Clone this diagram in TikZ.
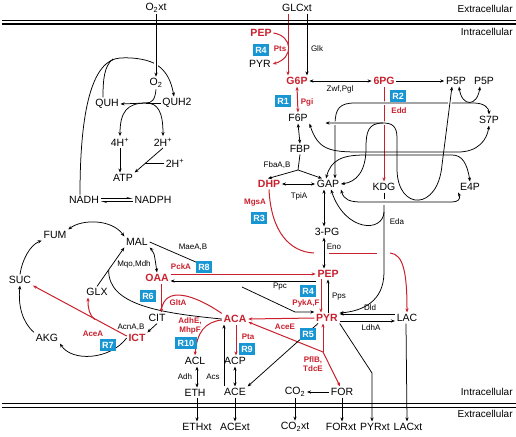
\documentclass[tikz,border=0pt]{standalone}
\usepackage{fontspec}
\setmainfont{Liberation Sans}
\usetikzlibrary{positioning,arrows.meta}
\definecolor{fluxred}{RGB}{200,32,45}
\definecolor{fluxblue}{RGB}{24,150,212}
\tikzset{
	network/.style={>={Stealth[length=4pt,width=3.2pt]},line width=0.75pt},
	met/.style={inner sep=1.5pt,font=\fontsize{10.5}{12}\selectfont},
	keymet/.style={met,text=fluxred,font=\fontsize{10.5}{12}\selectfont\bfseries},
	enz/.style={inner sep=1pt,font=\fontsize{8}{9}\selectfont},
	keyenz/.style={enz,text=fluxred,align=center,font=\fontsize{8}{9}\selectfont\bfseries},
	rbox/.style={fill=fluxblue,text=white,inner sep=2.5pt,minimum height=12pt,font=\fontsize{9}{10}\selectfont\bfseries},
	side/.style={inner sep=0pt,anchor=east,font=\fontsize{10}{12}\selectfont},
	keyflux/.style={draw=fluxred,line width=1pt},
	halo/.style={preaction={draw=white,line width=3.5pt,-}},
	membrane/.style={line width=1.2pt}
}
\begin{document}
\begin{tikzpicture}[network,x=1pt,y=-1pt]
	\useasboundingbox (0,0) rectangle (516,436);
	
	% compartments
	\node[side] (exttop) at (513,9) {Extracellular};
	\node[side] (inttop) at (513,32) {Intracellular};
	\node[side] (intbot) at (513,392) {Intracellular};
	\node[side] (extbot) at (513,414) {Extracellular};
	
	% metabolites
	\node[met] (o2xt) at (156,8) {O\textsubscript{2}xt};
	\node[met] (glcxt) at (297,8) {GLCxt};
	\node[met] (o2) at (156,83) {O\textsubscript{2}};
	\node[met] (quh) at (107,104) {QUH};
	\node[met] (quhtwo) at (177,103) {QUH2};
	\node[met] (hfour) at (120,142) {4H\textsuperscript{+}};
	\node[met] (htwo) at (163,142) {2H\textsuperscript{+}};
	\node[met] (htwob) at (175,163) {2H\textsuperscript{+}};
	\node[met] (atp) at (123,178) {ATP};
	\node[met] (nadh) at (84,200) {NADH};
	\node[met] (nadph) at (153,200) {NADPH};
	\node[keymet] (pepa) at (261,33) {PEP};
	\node[met] (pyra) at (260,64) {PYR};
	\node[keymet] (g6p) at (297,81) {G6P};
	\node[keymet] (pg6) at (384,81) {6PG};
	\node[met] (p5pa) at (456,81) {P5P};
	\node[met] (p5pb) at (484,81) {P5P};
	\node[met] (f6p) at (298,118) {F6P};
	\node[met] (s7p) at (489,120) {S7P};
	\node[met] (fbp) at (300,149) {FBP};
	\node[keymet] (dhp) at (269,184) {DHP};
	\node[met] (gap) at (328,184) {GAP};
	\node[met] (kdg) at (384,187) {KDG};
	\node[met] (e4p) at (470,187) {E4P};
	\node[met] (pg3) at (327,232) {3-PG};
	\node[keymet] (pep) at (328,274) {PEP};
	\node[keymet] (pyr) at (327,318) {PYR};
	\node[met] (lac) at (407,318) {LAC};
	\node[keymet] (oaa) at (157,278) {OAA};
	\node[met] (mal) at (137,242) {MAL};
	\node[met] (fum) at (55,235) {FUM};
	\node[met] (suc) at (20,280) {SUC};
	\node[met] (akg) at (47,338) {AKG};
	\node[met] (glx) at (97,292) {GLX};
	\node[met] (cit) at (157,318) {CIT};
	\node[keymet] (ict) at (137,338) {ICT};
	\node[keymet] (aca) at (235,319) {ACA};
	\node[met] (acl) at (195,361) {ACL};
	\node[met] (acp) at (235,361) {ACP};
	\node[met] (eth) at (195,393) {ETH};
	\node[met] (ace) at (235,392) {ACE};
	\node[met] (co2) at (295,392) {CO\textsubscript{2}};
	\node[met] (form) at (342,392) {FOR};
	\node[met] (ethxt) at (197,427) {ETHxt};
	\node[met] (acext) at (235,427) {ACExt};
	\node[met] (co2xt) at (295,427) {CO\textsubscript{2}xt};
	\node[met] (forxt) at (341,427) {FORxt};
	\node[met] (pyrxt) at (375,427) {PYRxt};
	\node[met] (lacxt) at (408,427) {LACxt};
	
	% respiration
	\draw[->] ([xshift=-4pt]nadh.north) .. controls (80,110) and (92,60) .. (120,58) .. controls (135,57) and (150,60) .. (157,65) .. controls (166,71) and (171,80) .. ([xshift=-3pt]quhtwo.north);
	\draw (113,59) .. controls (104,66) and (103,80) .. ([xshift=-4pt]quh.north);
	\draw[->,halo] (o2xt) -- (o2);
	\draw[->] (o2.south) .. controls (155,100) and (152,103) .. (146,103) -- (quh.east);
	\draw (quhtwo.west) -- (146,103);
	\draw[->] (146,103) .. controls (127,103) and (120,112) .. (hfour.north);
	\draw[->] (146,103) .. controls (158,103) and (163,112) .. (htwo.north);
	\draw[->] (hfour.south) -- (hfour.south |- atp.north);
	\draw[->] (htwo.south) -- (atp.north east);
	\draw (htwob.west) -- (145,163);
	\draw[-{Stealth[left,length=5pt,width=3pt]}] ([yshift=1.5pt]nadh.east) -- ([yshift=1.5pt]nadph.west);
	\draw[-{Stealth[left,length=5pt,width=3pt]}] ([yshift=-1.5pt]nadph.west) -- ([yshift=-1.5pt]nadh.east);
	
	% uptake and upper glycolysis
	\draw[keyflux,->] ([xshift=-9pt]glcxt.south) -- ([xshift=-9pt]g6p.north);
	\draw[->] ([xshift=10pt]glcxt.south) -- ([xshift=10pt]g6p.north);
	\draw[keyflux,->] (pepa.east) .. controls (293,36) and (294,58) .. (pyra.east);
	\draw[<->] (g6p.east) -- (pg6.west);
	\draw[->] (pg6.east) -- (p5pa.west);
	\draw[keyflux,<->] (g6p.south) -- (f6p.north);
	\draw[<->] (f6p.south) -- (fbp.north);
	\draw (fbp.south) -- (298,170) coordinate (fba);
	\draw[->] (fba) -- ([xshift=-1pt]dhp.north);
	\draw[->] (fba) -- ([xshift=-6pt]gap.north);
	\draw[<->] (dhp.east) -- (gap.west);
	
	% pentose phosphates and ED
	\draw[keyflux,->] (pg6.south) -- (kdg.north);
	\draw[<->,halo] ([xshift=7pt]gap.north) -- (335,125) .. controls (335,108) and (340,103) .. (355,103) -- (474,103) .. controls (484,103) and (489,108) .. (s7p.north);
	\draw[<->,halo] ([xshift=-4pt]p5pa.south) -- (442,165) .. controls (438,211) and (398,211) .. (397,170) -- (397,138) .. controls (397,126) and (392,123) .. (383,123) -- ([xshift=16pt,yshift=-5pt]f6p.east);
	\draw[->] (383,123) .. controls (368,123) and (366,132) .. (366,148) .. controls (366,172) and (356,182) .. (gap.east);
	\draw[<->] ([xshift=3pt]p5pa.south) .. controls (462,107) and (477,107) .. ([xshift=-4pt]p5pb.south);
	\draw[<->] (f6p.south east) .. controls (318,150) and (330,152) .. (360,152) -- (458,152) .. controls (478,152) and (487,140) .. (s7p.south);
	\draw[<->] ([xshift=-2pt]gap.north) .. controls (331,160) and (342,155) .. (365,155) -- (452,155) .. controls (462,155) and (467,163) .. (e4p.north);
	\draw[<->] (gap.south east) .. controls (344,200) and (350,202) .. (362,202) -- (452,202) .. controls (458,202) and (461,199) .. (e4p.south west);
	\draw (kdg.south) -- (384,199);
	\draw[->] (384,205) -- (384,272) .. controls (384,302) and (362,311) .. ([yshift=5pt]pyr.east);
	\draw[->] (384,212) .. controls (383,233) and (345,232) .. ([xshift=3pt]gap.south);
	
	% lower glycolysis
	\draw[<->] ([xshift=-4pt]gap.south) -- ([xshift=-3pt]pg3.north);
	\draw[<->] ([xshift=-3pt]pg3.south) -- ([xshift=-4pt]pep.north);
	\draw[keyflux] (dhp.south) .. controls (271,232) and (290,252) .. (314,253);
	\draw[keyflux] (329,253) -- (377,253);
	\draw[keyflux,->] (390,253) .. controls (404,254) and (407,275) .. (lac.north);
	\draw[keyflux,->] ([xshift=-7pt]pep.south) -- ([xshift=-6pt]pyr.north);
	\draw[->] ([xshift=1pt]pyr.north) -- (pep.south);
	
	% anaplerosis and pyruvate node
	\draw[keyflux,->] ([yshift=4pt]oaa.east) -- (pep.west);
	\draw[->] ([yshift=-7pt]pep.west) -- ([yshift=-3pt]oaa.east);
	\draw (mal.east) -- (205,266);
	\draw[->] (242,287) -- (295,312) -- ([yshift=6pt]pyr.west);
	\draw[keyflux,->] (pyr.west) -- (aca.east);
	\coordinate (pfl) at (323,352);
	\draw[keyflux,->] (pfl) -- ([xshift=-4pt]pyr.south);
	\draw[keyflux,->] (pfl) -- ([yshift=-3pt]aca.east);
	\draw[keyflux,->] (pfl) -- ([xshift=-2pt]form.north);
	\draw[->] ([xshift=-9pt]pyr.south) -- (ace.north east);
	\draw[->] ([yshift=4pt]lac.west) -- ([yshift=4pt]pyr.east);
	\draw[->] ([yshift=-3pt]pyr.east) -- ([yshift=-3pt]lac.west);
	\coordinate (pyrbend) at (372,373);
	\draw[->] (pyr.south east) -- (pyrbend) -- (pyrbend |- pyrxt.north);
	\draw[->] ([xshift=-1pt]lac.south) -- (lacxt.north -| lac.south);
	\draw[->] (form.west) -- (co2.east);
	\draw[->] (form.south) -- (form.south |- forxt.north);
	\draw[->] (co2.south) -- (co2xt.north);
	
	% acetyl-CoA branches
	\draw[keyflux,->] ([yshift=-1pt]aca.west) .. controls (205,322) and (197,332) .. (acl.north);
	\draw[keyflux,->] ([xshift=1pt]aca.south) -- ([xshift=1pt]acp.north);
	\draw[->] ([xshift=-11pt]ace.north) -- ([xshift=-11pt]aca.south);
	\draw[<->] ([xshift=2pt]acl.south) -- ([xshift=2pt]eth.north);
	\draw[<->] (acp.south) -- (ace.north);
	\draw[->] ([xshift=2pt]eth.south) -- (ethxt.north);
	\draw[->] (ace.south) -- (acext.north);
	
	% TCA cycle and glyoxylate shunt
	\draw[<->] (fum.north east) .. controls (82,219) and (112,219) .. (mal.north west);
	\draw[->] (suc.north) .. controls (22,260) and (30,245) .. (fum.south west);
	\draw[->] (akg.north west) .. controls (22,322) and (18,305) .. (suc.south);
	\draw[->] (ict.west) .. controls (110,360) and (72,362) .. (akg.south east);
	\draw[->] (cit.south) -- (ict.north east);
	\draw[<->] (mal.south east) .. controls (154,252) .. (oaa.north);
	\draw[->] (glx.north) -- (mal.south west);
	\draw (aca.west) .. controls (160,313) and (108,305) .. (108.7,270);
	\draw[keyflux] ([xshift=4pt]oaa.south) -- ([xshift=4pt]cit.north);
	\draw[keyflux,->] (aca.north west) .. controls (195,295) and (165,285) .. ([xshift=4pt]cit.north);
	\draw[keyflux,->] ([yshift=2pt]ict.west) -- (suc.south east);
	\draw[keyflux,->] (95,319.5) .. controls (89,315) and (88,308) .. ([xshift=-9pt]glx.south);
	
	% membranes
	\draw[membrane] (2,20.5) -- (516,20.5);
	\draw[membrane] (2,24) -- (516,24);
	\draw[membrane] (2,403.5) -- (516,403.5);
	\draw[membrane] (2,407.5) -- (516,407.5);
	
	% enzymes
	\node[enz] (glk) at (317,49) {Glk};
	\node[enz] (zwf) at (340,89) {Zwf,Pgl};
	\node[enz] (fbaab) at (277,165) {FbaA,B};
	\node[enz] (tpia) at (299,196) {TpiA};
	\node[enz] (eda) at (397,222) {Eda};
	\node[enz] (eno) at (334,247) {Eno};
	\node[enz] (ppc) at (280,287) {Ppc};
	\node[enz] (pps) at (339,297) {Pps};
	\node[enz] (dld) at (370,308) {Dld};
	\node[enz] (ldha) at (371,328) {LdhA};
	\node[enz] (maeab) at (193,247) {MaeA,B};
	\node[enz] (mqo) at (134,264) {Mqo,Mdh};
	\node[enz] (acnab) at (131,327) {AcnA,B};
	\node[enz] (adh) at (185,377) {Adh};
	\node[enz] (acs) at (213,377) {Acs};
	\node[keyenz] (pts) at (280,49) {Pts};
	\node[keyenz] (pgi) at (307,102) {Pgi};
	\node[keyenz] (edd) at (399,111) {Edd};
	\node[keyenz] (mgsa) at (255,203) {MgsA};
	\node[keyenz] (pcka) at (181,267) {PckA};
	\node[keyenz] (glta) at (178,303) {GltA};
	\node[keyenz] (pyka) at (306,303) {PykA,F};
	\node[keyenz] (acee) at (285,327) {AceE};
	\node[keyenz] (adhe) at (190,326) {AdhE,\\MhpF};
	\node[keyenz] (pta) at (248,337) {Pta};
	\node[keyenz] (pflb) at (313,364) {PflB,\\TdcE};
	\node[keyenz] (acea) at (93,334) {AceA};
	
	% flux ratios
	\node[rbox] (rone) at (283,101) {R1};
	\node[rbox] (rtwo) at (398,96) {R2};
	\node[rbox] (rthree) at (259,218) {R3};
	\node[rbox] (rfourpts) at (261,50) {R4};
	\node[rbox] (rfour) at (308,291) {R4};
	\node[rbox] (rfive) at (308,334) {R5};
	\node[rbox] (rsix) at (148,296) {R6};
	\node[rbox] (rseven) at (108,345) {R7};
	\node[rbox] (reight) at (204,267) {R8};
	\node[rbox] (rnine) at (247,349) {R9};
	\node[rbox] (rten) at (186,343) {R10};
\end{tikzpicture}
\end{document}
